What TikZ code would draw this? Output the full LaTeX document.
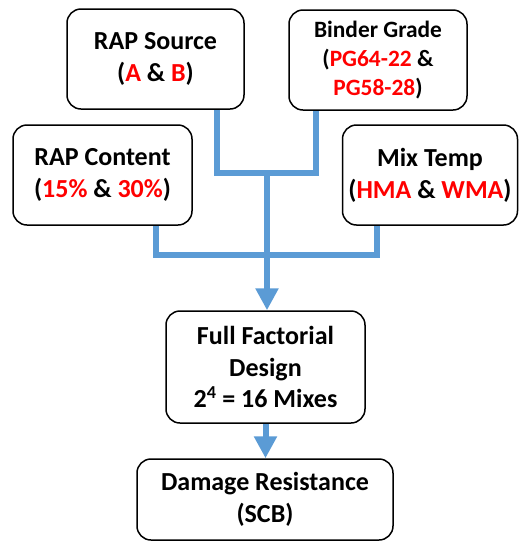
\documentclass[tikz,border=0pt]{standalone}
\usepackage{fontspec}
\setmainfont{Carlito}
\usetikzlibrary{arrows.meta,calc}
\definecolor{linkblue}{HTML}{5B9BD5}
\definecolor{hl}{HTML}{FF0000}
\newcommand{\hlt}[1]{\textcolor{hl}{#1}}
\begin{document}
\begin{tikzpicture}[x=1pt,y=-1pt,
  box/.style={draw=black, line width=1.5pt, rounded corners=14pt, fill=white,
    inner sep=0pt, align=center, font=\fontsize{26}{31.7}\selectfont\bfseries},
  smallbox/.style={box, font=\fontsize{23.4}{28.6}\selectfont\bfseries},
  conn/.style={draw=linkblue, line width=6pt},
  tip/.style={-{Triangle[width=22pt,length=22pt]}}]
\useasboundingbox (0,0) rectangle (519,542);
\node[box, minimum width=177pt, minimum height=100pt] (src) at (155.5,59) {RAP Source\\(\hlt{A} \& \hlt{B})};
\node[smallbox, minimum width=178pt, minimum height=100pt] (bind) at (378,60) {Binder Grade\\(\hlt{PG64-22} \&\\\hlt{PG58-28})};
\node[box, minimum width=179pt, minimum height=100pt] (cont) at (102.5,175) {RAP Content\\(\hlt{15\%} \& \hlt{30\%})};
\node[box, minimum width=175pt, minimum height=100pt] (temp) at (430,175) {Mix Temp\\(\hlt{HMA} \& \hlt{WMA})};
\node[box, minimum width=199pt, minimum height=112pt] (fact) at (265.5,367) {Full Factorial\\Design\\2\textsuperscript{4} = 16 Mixes};
\node[box, minimum width=256pt, minimum height=81pt] (dmg) at (265,499.5) {Damage Resistance\\(SCB)};
\coordinate (j1) at (267,173);
\coordinate (j2) at (267,254.5);
\draw[conn] ([xshift=61.5pt]src.south) |- (j1) -| ([xshift=-62pt]bind.south);
\draw[conn] ([xshift=53pt]cont.south) |- (j2) -| ([xshift=-53pt]temp.south);
\draw[conn, tip] (j1) -- (j1 |- fact.north);
\draw[conn, tip] (fact.south) -- (fact.south |- dmg.north);
\end{tikzpicture}
\end{document}
